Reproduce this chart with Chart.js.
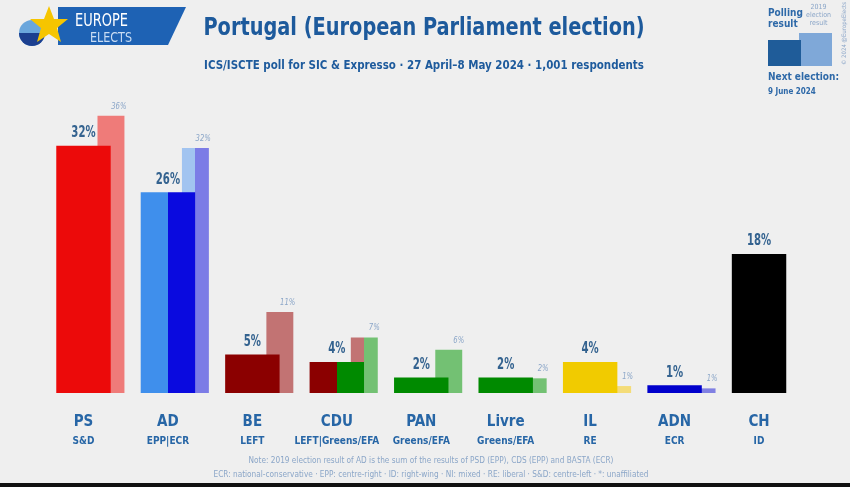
<!DOCTYPE html>
<html>
<head>
<meta charset="utf-8">
<script src="https://cdn.jsdelivr.net/npm/chart.js@4.4.1/dist/chart.umd.min.js"></script>
<style>
  html, body { margin: 0; padding: 0; }
  body {
    width: 850px; height: 487px; overflow: hidden; position: relative;
    background: #efefef;
    font-family: "DejaVu Sans Condensed", sans-serif;
    color: #1f5fa0;
  }
  #wrap { position: absolute; left: 0; top: 0; width: 850px; height: 487px; }
  .abs { position: absolute; white-space: nowrap; }
  #title { left: 0; width: 848px; top: 12px; text-align: center; font-size: 25px; font-weight: bold; color: #1d5a9c; transform: scaleX(0.86); }
  #subtitle { left: 0; width: 848px; top: 57px; text-align: center; font-size: 13px; font-weight: bold; color: #1d5a9c; transform: scaleX(0.88); }
  .note { left: 0; width: 862px; text-align: center; font-size: 8.2px; color: #8ba6c8; }
  #bottomStrip { position: absolute; left: 0; bottom: 0; width: 850px; height: 4px; background: #111; }
</style>
</head>
<body>
<div id="wrap"><canvas id="pollChart" width="850" height="487"></canvas></div>

<svg class="abs" style="left:0;top:0" width="200" height="52">
  <polygon points="58,7 186,7 168,45 58,45" fill="#1e62b4"/>
  <circle cx="32" cy="33" r="13" fill="#6aa6dc"/>
  <path d="M19,33 A13,13 0 0 0 45,33 Z" fill="#1c3f8f"/>
  <polygon points="49,6 54,19 68,19 57,28 61,42 49,34 37,42 41,28 30,19 44,19" fill="#f6c500"/>
  <text x="75" y="26" font-size="17" fill="#ffffff" textLength="53" lengthAdjust="spacingAndGlyphs" font-family="DejaVu Sans Condensed, sans-serif">EUROPE</text>
  <text x="90" y="42" font-size="14" fill="#c9dcf3" textLength="42" lengthAdjust="spacingAndGlyphs" font-family="DejaVu Sans Condensed, sans-serif">ELECTS</text>
</svg>

<div id="title" class="abs">Portugal (European Parliament election)</div>
<div id="subtitle" class="abs">ICS/ISCTE poll for SIC &amp; Expresso · 27 April–8 May 2024 · 1,001 respondents</div>

<!-- legend box, top right -->
<div class="abs" style="left:768px;top:7px;font-size:10px;font-weight:bold;color:#2e69a8;line-height:11px">Polling<br>result</div>
<div class="abs" style="left:806px;top:3px;font-size:7px;color:#8ba6c8;line-height:8px;text-align:center">2019<br>election<br>result</div>
<div class="abs" style="left:799px;top:33px;width:33px;height:33px;background:#7fa8d8"></div>
<div class="abs" style="left:768px;top:40px;width:33px;height:26px;background:#1f5c99"></div>
<div class="abs" style="left:768px;top:71px;font-size:10px;font-weight:bold;color:#2e69a8">Next election:</div>
<div class="abs" style="left:768px;top:87px;font-size:8px;font-weight:bold;color:#2e69a8">9 June 2024</div>
<div class="abs" style="left:812px;top:30px;font-size:6px;color:#8ba6c8;transform:rotate(-90deg);transform-origin:center">© 2024 @EuropeElects</div>

<div class="abs note" style="top:455px">Note: 2019 election result of AD is the sum of the results of PSD (EPP), CDS (EPP) and BASTA (ECR)</div>
<div class="abs note" style="top:469px">ECR: national-conservative · EPP: centre-right · ID: right-wing · NI: mixed · RE: liberal · S&amp;D: centre-left · *: unaffiliated</div>
<div id="bottomStrip"></div>

<script>
// Poll data
const parties = ['PS', 'AD', 'BE', 'CDU', 'PAN', 'Livre', 'IL', 'ADN', 'CH'];
const groups = ['S&D', 'EPP|ECR', 'LEFT', 'LEFT|Greens/EFA', 'Greens/EFA', 'Greens/EFA', 'RE', 'ECR', 'ID'];
const pollValues = [32, 26, 5, 4, 2, 2, 4, 1, 18];
const result2019 = [35.9, 31.7, 10.5, 7.2, 5.6, 1.9, 0.9, 0.6, null];

// colours (left/right halves for the coalition bars)
const pollLeft  = ['#ec0a0a', '#3f8fec', '#8b0000', '#8b0000', '#008a00', '#008a00', '#f1cb00', '#0000cc', '#000000'];
const pollRight = ['#ec0a0a', '#0a0adf', '#8b0000', '#008a00', '#008a00', '#008a00', '#f1cb00', '#0000cc', '#000000'];
const oldLeft   = ['#ef7b79', '#a2c4f0', '#c27373', '#c27373', '#73c173', '#73c173', '#f4dc78', '#8080e2', '#000000'];
const oldRight  = ['#ef7b79', '#7c7ce6', '#c27373', '#73c173', '#73c173', '#73c173', '#f4dc78', '#8080e2', '#000000'];

const FONT = '"DejaVu Sans Condensed", sans-serif';
const CAT_PCT = 0.651;

// split a bar in two colours with a hard-stop gradient at its centre
function splitFill(left, right, side) {
  return function(ctx) {
    const i = ctx.dataIndex;
    if (left[i] === right[i]) return left[i];
    const chart = ctx.chart;
    const xs = chart.scales.x;
    if (!xs || !chart.chartArea) return left[i];
    const w = xs.getPixelForValue(1) - xs.getPixelForValue(0);
    const mid = xs.getPixelForValue(i) + side * w * CAT_PCT / 4;
    const g = chart.ctx.createLinearGradient(mid - 0.5, 0, mid + 0.5, 0);
    g.addColorStop(0, left[i]);
    g.addColorStop(0.5, left[i]);
    g.addColorStop(0.5, right[i]);
    g.addColorStop(1, right[i]);
    return g;
  };
}

// narrow text, like the condensed font of the original
function squeezeText(c, txt, x, y, sx) {
  c.save();
  c.translate(x, y);
  c.scale(sx, 1);
  c.fillText(txt, 0, 0);
  c.restore();
}

const valueLabels = {
  id: 'valueLabels',
  afterDatasetsDraw(chart) {
    const c = chart.ctx;
    c.save();
    chart.data.datasets.forEach((ds, di) => {
      const meta = chart.getDatasetMeta(di);
      meta.data.forEach((el, i) => {
        const v = ds.data[i];
        if (v === null || v === undefined) return;
        const txt = Math.round(v) + '%';
        c.textBaseline = 'bottom';
        if (di === 0) {
          c.font = 'bold 15px ' + FONT;
          c.fillStyle = '#33628f';
          c.textAlign = 'center';
          squeezeText(c, txt, el.x, el.y - 5, 0.75);
        } else {
          c.font = 'italic 9px ' + FONT;
          c.fillStyle = '#8ba6c8';
          c.textAlign = 'right';
          squeezeText(c, txt, el.x + el.width / 2 + 2, el.y - 5, 0.85);
        }
      });
    });
    c.restore();
  }
};

const ctx = document.getElementById('pollChart').getContext('2d');
const pollChart = new Chart(ctx, {
  type: 'bar',
  data: {
    labels: parties,
    datasets: [{
      label: 'Polling result',
      data: pollValues,
      backgroundColor: splitFill(pollLeft, pollRight, -1),
      categoryPercentage: CAT_PCT,
      barPercentage: 1.98,
      order: 0
    }, {
      label: '2019 election result',
      data: result2019,
      backgroundColor: splitFill(oldLeft, oldRight, 1),
      categoryPercentage: CAT_PCT,
      barPercentage: 0.98,
      order: 1
    }]
  },
  options: {
    responsive: false,
    animation: false,
    events: [],
    layout: { padding: { left: 55, right: 35, top: 84, bottom: 30 } },
    plugins: {
      legend: { display: false },
      tooltip: { enabled: false }
    },
    scales: {
      y: {
        display: false,
        min: 0,
        max: 40
      },
      x: {
        weight: 0,
        afterFit: scale => { scale.height = 40; },
        grid: { display: false, drawTicks: false },
        border: { display: false },
        ticks: {
          autoSkip: false,
          maxRotation: 0,
          padding: 20,
          labelOffset: -13.75,
          color: '#2766a6',
          font: { family: FONT, size: 15, weight: 'bold' }
        }
      },
      x2: {
        type: 'category',
        labels: groups,
        position: 'bottom',
        offset: true,
        weight: 1,
        afterFit: scale => { scale.height = 24; },
        grid: { display: false, drawTicks: false },
        border: { display: false },
        ticks: {
          autoSkip: false,
          maxRotation: 0,
          padding: 2,
          labelOffset: -13.75,
          color: '#2766a6',
          font: { family: FONT, size: 10, weight: 'bold' }
        }
      }
    }
  },
  plugins: [valueLabels]
});
</script>
</body>
</html>
